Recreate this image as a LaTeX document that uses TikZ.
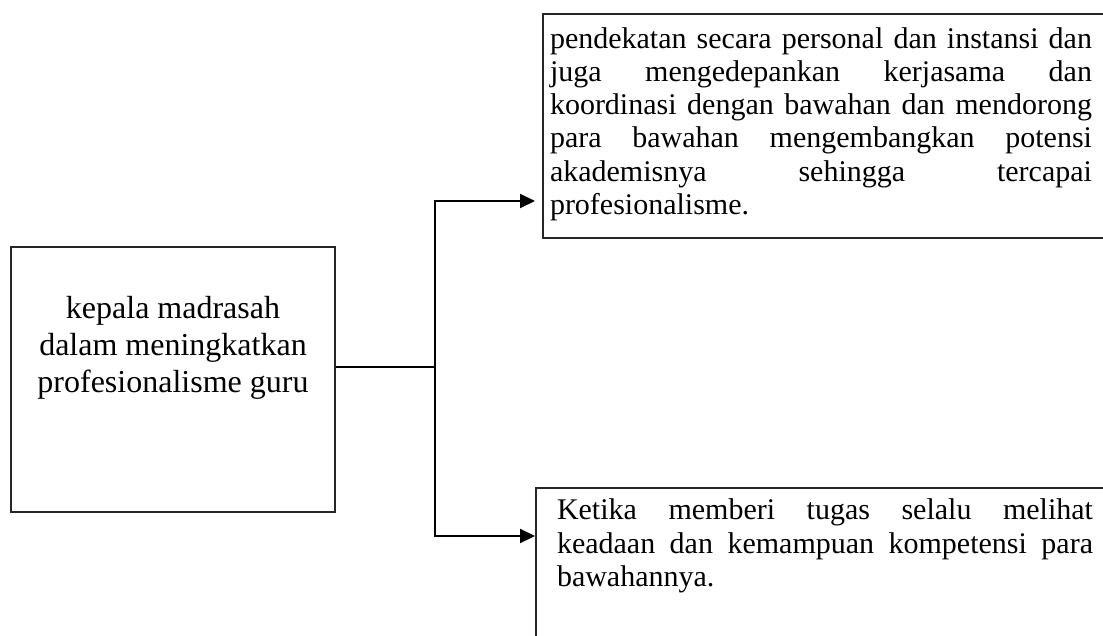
\documentclass[tikz,border=0pt]{standalone}
\usepackage{fontspec}
\setmainfont{Liberation Serif}
\usetikzlibrary{arrows.meta, positioning, calc}

\begin{document}
\begin{tikzpicture}[
    x=0.5pt, y=-0.5pt,
    line width=1pt,
    box/.style = {
        rectangle, draw=black!85, line width=1pt, inner sep=0pt
    },
    boxtext/.style = {
        font=\fontsize{15}{16.6}\selectfont, align=justify,
        inner sep=0pt, anchor=north west
    },
    arr/.style = {-{Triangle[length=7.5pt, width=7pt]}, line width=1pt}
]
\useasboundingbox (0,0) rectangle (1103,636);
\clip (0,0) rectangle (1103,636);

% ---- Left box ----
\node[box, minimum width=162pt, minimum height=132.5pt] (kepala) at (173,379.5) {};
\node[font=\fontsize{16}{18.5}\selectfont, align=center] (kepalatext) at (173,348)
    {kepala madrasah\\dalam meningkatkan\\profesionalisme guru};

% ---- Right boxes (cut by the page edge) ----
\node[box, anchor=north west, minimum width=340pt, minimum height=112pt] (plan) at (542,13) {};
\node[boxtext, text width=271pt] (plantext) at (549,26.5)
    {pendekatan  secara personal dan instansi  dan\linebreak
     juga mengedepankan kerjasama dan\linebreak
     koordinasi dengan bawahan dan mendorong\linebreak
     para bawahan mengembangkan potensi\linebreak
     akademisnya sehingga tercapai\linebreak
     profesionalisme.};

\node[box, anchor=north west, minimum width=340pt, minimum height=120pt] (task) at (535,487) {};
\node[boxtext, text width=268pt] (tasktext) at (556,498)
    {Ketika memberi tugas selalu melihat\linebreak
     keadaan dan kemampuan kompetensi para\linebreak
     bawahannya.};

% ---- Arrows ----
\coordinate (split) at (435,367);
\draw (kepala.east |- split) -- (split);
\draw[arr] (split) |- ([shift={(-7,-38)}]plan.south west);
\draw[arr] (split) |- ([shift={(0,49)}]task.north west);

\end{tikzpicture}
\end{document}
